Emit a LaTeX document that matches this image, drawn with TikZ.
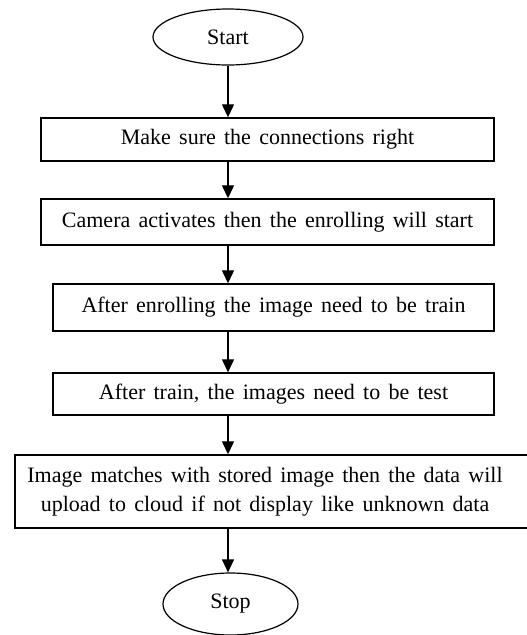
\documentclass[tikz,border=0pt]{standalone}
\usepackage{fontspec}
\setmainfont{Liberation Serif}[WordSpace=1.5]
\usetikzlibrary{shapes.geometric,arrows.meta}
\begin{document}
\begin{tikzpicture}[x=1pt,y=-1pt,
  every node/.style={font=\fontsize{22}{29}\selectfont},
  term/.style={draw,ellipse,line width=1.2pt,inner sep=0pt},
  stepbox/.style={draw,rectangle,line width=1.4pt,inner sep=0pt},
  flow/.style={line width=1.2pt,-{Triangle[length=13pt,width=12pt]}}]
\useasboundingbox (0,0) rectangle (527,635);
\node[term,minimum width=150pt,minimum height=56pt] (start) at (228,37) {Start};
\node[stepbox,minimum width=453pt,minimum height=43pt] (b1) at (267.5,139.5) {Make sure the connections\ right};
\node[stepbox,minimum width=453pt,minimum height=46pt] (b2) at (267.5,222) {Camera activates\ then the enrolling will start};
\node[stepbox,minimum width=441pt,minimum height=47pt] (b3) at (273.5,307.5) {After enrolling the image need to be train};
\node[stepbox,minimum width=441pt,minimum height=42pt] (b4) at (273.5,394) {After train, the images need to be test};
\node[stepbox,minimum width=520pt,minimum height=73pt] (b5) at (275,491.5) {};
\node[align=center,inner sep=0pt] (t5) at (265,492) {Image matches with stored image then the data will\\upload to cloud if not display like unknown data};
\node[term,minimum width=135pt,minimum height=62pt] (stop) at (230.5,604) {Stop};
\draw[flow] (start.south) -- (start.south |- b1.north);
\draw[flow] (start.south |- b1.south) -- (start.south |- b2.north);
\draw[flow] (start.south |- b2.south) -- (start.south |- b3.north);
\draw[flow] (start.south |- b3.south) -- (start.south |- b4.north);
\draw[flow] (start.south |- b4.south) -- (start.south |- b5.north);
\draw[flow] (start.south |- b5.south) -- (start.south |- stop.north);
\end{tikzpicture}
\end{document}
